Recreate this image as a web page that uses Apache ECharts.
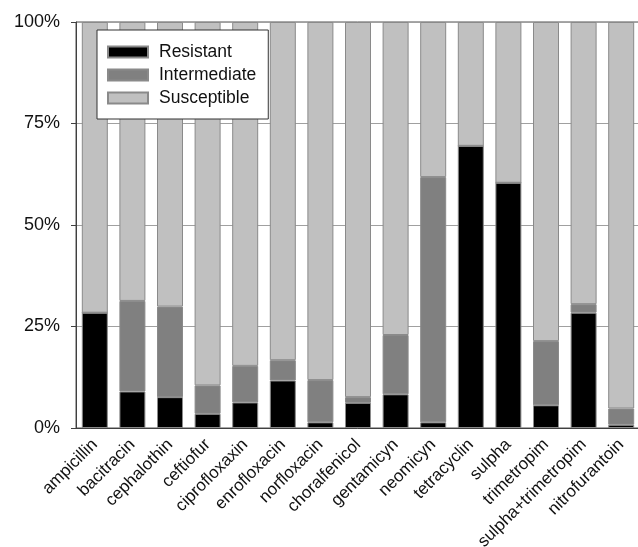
<!DOCTYPE html>
<html>
<head>
<meta charset="utf-8">
<script src="https://cdn.jsdelivr.net/npm/echarts@6/dist/echarts.min.js"></script>
<style>html,body{margin:0;padding:0;background:#fff;}#c{width:638px;height:547px;}</style>
</head>
<body>
<div id="c"></div>
<script>
const categories = ['ampicillin','bacitracin','cephalothin','ceftiofur','ciprofloxaxin','enrofloxacin','norfloxacin','choralfenicol','gentamicyn','neomicyn','tetracyclin','sulpha','trimetropim','sulpha+trimetropim','nitrofurantoin'];
const resistant    = [28.4, 9.0, 7.6, 3.5, 6.3, 11.7, 1.4, 6.2, 8.3, 1.4, 69.5, 60.4, 5.6, 28.4, 0.8];
const intermediate = [0.0, 22.3, 22.3, 7.0, 9.0, 5.0, 10.4, 1.4, 14.6, 60.4, 0.0, 0.0, 15.8, 2.1, 4.0];
const susceptible  = [71.6, 68.7, 70.1, 89.5, 84.7, 83.3, 88.2, 92.4, 77.1, 38.2, 30.5, 39.6, 78.6, 69.5, 95.2];
const yTicks = [0, 25, 50, 75, 100];

const chart = echarts.init(document.getElementById('c'), null, {renderer: 'canvas'});
const font = 'Liberation Sans, Arial, sans-serif';
function s(name, data, color) {
  return {
    name: name, type: 'bar', stack: 'all', data: data, barWidth: 26,
    itemStyle: {color: color, borderColor: '#8a8a8a', borderWidth: 1},
    emphasis: {disabled: true}
  };
}
chart.setOption({
  animation: false,
  grid: {left: 76, top: 22, bottom: 119, width: 564, outerBoundsMode: 'none', containLabel: false, show: true, borderColor: '#505050', borderWidth: 1, backgroundColor: 'transparent'},
  legend: {
    orient: 'vertical', left: 97, top: 30,
    padding: [13, 12, 12, 10],
    backgroundColor: '#fff', borderColor: '#333', borderWidth: 1,
    itemWidth: 40, itemHeight: 11, itemGap: 5,
    icon: 'rect',
    textStyle: {fontFamily: font, fontSize: 17.5, color: '#111', padding: [0, 0, 0, 6]},
    data: ['Resistant', 'Intermediate', 'Susceptible']
  },
  xAxis: {
    type: 'category', data: categories,
    axisLine: {lineStyle: {color: '#404040', width: 1}},
    axisTick: {alignWithLabel: true, length: 6, lineStyle: {color: '#404040'}},
    axisLabel: {rotate: 45, interval: 0, margin: 14, fontFamily: font, fontSize: 17, color: '#111'}
  },
  yAxis: {
    type: 'value', min: yTicks[0], max: yTicks[yTicks.length - 1], interval: 25,
    axisLine: {show: true, lineStyle: {color: '#404040'}},
    axisTick: {show: true, length: 5, lineStyle: {color: '#404040'}},
    splitLine: {show: true, lineStyle: {color: '#a0a0a0', width: 1}},
    axisLabel: {formatter: '{value}%', margin: 16, fontFamily: font, fontSize: 18, color: '#111'}
  },
  series: [
    s('Resistant', resistant, '#000000'),
    s('Intermediate', intermediate, '#808080'),
    s('Susceptible', susceptible, '#c0c0c0')
  ]
});
</script>
</body>
</html>
